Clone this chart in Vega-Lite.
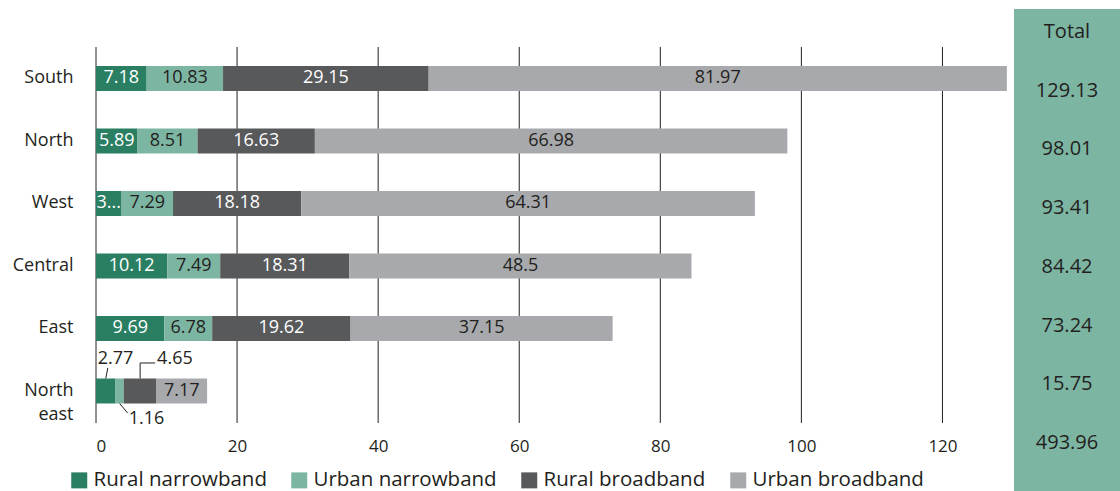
{
  "$schema": "https://vega.github.io/schema/vega-lite/v6.json",
  "padding": {"left": 0, "top": 9, "right": 0, "bottom": 0},
  "background": "white",
  "config": {
    "font": "Open Sans",
    "view": {"stroke": null},
    "axis": {"labelFont": "Open Sans", "labelColor": "#231f20"},
    "text": {"font": "Open Sans"},
    "legend": {"labelFont": "Open Sans", "labelColor": "#231f20"}
  },
  "datasets": {
    "segs": [
      {"region": "South", "type": "Rural narrowband", "seg": 1, "value": 7.18, "label": "7.18"},
      {"region": "South", "type": "Urban narrowband", "seg": 2, "value": 10.83, "label": "10.83"},
      {"region": "South", "type": "Rural broadband", "seg": 3, "value": 29.15, "label": "29.15"},
      {"region": "South", "type": "Urban broadband", "seg": 4, "value": 81.97, "label": "81.97"},
      {"region": "North", "type": "Rural narrowband", "seg": 1, "value": 5.89, "label": "5.89"},
      {"region": "North", "type": "Urban narrowband", "seg": 2, "value": 8.51, "label": "8.51"},
      {"region": "North", "type": "Rural broadband", "seg": 3, "value": 16.63, "label": "16.63"},
      {"region": "North", "type": "Urban broadband", "seg": 4, "value": 66.98, "label": "66.98"},
      {"region": "West", "type": "Rural narrowband", "seg": 1, "value": 3.63, "label": "3..."},
      {"region": "West", "type": "Urban narrowband", "seg": 2, "value": 7.29, "label": "7.29"},
      {"region": "West", "type": "Rural broadband", "seg": 3, "value": 18.18, "label": "18.18"},
      {"region": "West", "type": "Urban broadband", "seg": 4, "value": 64.31, "label": "64.31"},
      {"region": "Central", "type": "Rural narrowband", "seg": 1, "value": 10.12, "label": "10.12"},
      {"region": "Central", "type": "Urban narrowband", "seg": 2, "value": 7.49, "label": "7.49"},
      {"region": "Central", "type": "Rural broadband", "seg": 3, "value": 18.31, "label": "18.31"},
      {"region": "Central", "type": "Urban broadband", "seg": 4, "value": 48.5, "label": "48.5"},
      {"region": "East", "type": "Rural narrowband", "seg": 1, "value": 9.69, "label": "9.69"},
      {"region": "East", "type": "Urban narrowband", "seg": 2, "value": 6.78, "label": "6.78"},
      {"region": "East", "type": "Rural broadband", "seg": 3, "value": 19.62, "label": "19.62"},
      {"region": "East", "type": "Urban broadband", "seg": 4, "value": 37.15, "label": "37.15"},
      {"region": "North east", "type": "Rural narrowband", "seg": 1, "value": 2.77, "label": "2.77"},
      {"region": "North east", "type": "Urban narrowband", "seg": 2, "value": 1.16, "label": "1.16"},
      {"region": "North east", "type": "Rural broadband", "seg": 3, "value": 4.65, "label": "4.65"},
      {"region": "North east", "type": "Urban broadband", "seg": 4, "value": 7.17, "label": "7.17"}
    ],
    "ticks": [{"g": 0}, {"g": 20}, {"g": 40}, {"g": 60}, {"g": 80}, {"g": 100}, {"g": 120}],
    "totals": [
      {"r": 0, "t": "Total"},
      {"r": 1, "t": "129.13"},
      {"r": 2, "t": "98.01"},
      {"r": 3, "t": "93.41"},
      {"r": 4, "t": "84.42"},
      {"r": 5, "t": "73.24"},
      {"r": 6, "t": "15.75"},
      {"r": 7, "t": "493.96"}
    ]
  },
  "spacing": 1,
  "hconcat": [
    {
      "width": 917,
      "height": 414,
      "layer": [
        {
          "data": {"name": "ticks"},
          "mark": {"type": "rule", "color": "#231f20", "strokeWidth": 1, "yOffset": -31.5, "y2Offset": 32},
          "encoding": {
            "x": {"field": "g", "type": "quantitative"},
            "y": {"datum": "South"},
            "y2": {"datum": "North east"}
          }
        },
        {
          "data": {"name": "segs"},
          "transform": [
            {"stack": "value", "groupby": ["region"], "sort": [{"field": "seg"}], "as": ["v0", "v1"]}
          ],
          "layer": [
            {
              "mark": {"type": "bar"},
              "encoding": {
                "y": {"field": "region", "type": "nominal"},
                "x": {"field": "v0", "type": "quantitative"},
                "x2": {"field": "v1"},
                "color": {
                  "field": "type",
                  "type": "nominal",
                  "scale": {
                    "domain": ["Rural narrowband", "Urban narrowband", "Rural broadband", "Urban broadband"],
                    "range": ["#2a7f62", "#7db5a3", "#58595b", "#a7a9ac"]
                  },
                  "legend": {
                    "title": null,
                    "orient": "none",
                    "legendX": -27,
                    "legendY": 461,
                    "direction": "horizontal",
                    "symbolType": "square",
                    "symbolSize": 256,
                    "symbolStrokeWidth": 0,
                    "symbolOpacity": 1,
                    "labelFontSize": 20.5,
                    "labelLimit": 400,
                    "labelOffset": 4,
                    "columnPadding": 22
                  }
                }
              }
            },
            {
              "transform": [
                {"fold": ["v0", "v1"], "as": ["edge", "pos"]},
                {"aggregate": [{"op": "mean", "field": "pos", "as": "mid"}], "groupby": ["region", "type", "label"]}
              ],
              "encoding": {
                "y": {"field": "region", "type": "nominal"},
                "x": {"field": "mid", "type": "quantitative"}
              },
              "layer": [
                {
                  "transform": [{"filter": "datum.region != 'North east' || datum.type == 'Urban broadband'"}],
                  "mark": {"type": "text", "fontSize": 18, "baseline": "middle", "align": "center"},
                  "encoding": {
                    "text": {"field": "label"},
                    "color": {
                      "condition": {"test": "datum.type == 'Rural narrowband' || datum.type == 'Rural broadband'", "value": "white"},
                      "value": "#231f20"
                    }
                  }
                },
                {
                  "transform": [{"filter": "datum.region == 'North east' && datum.type == 'Rural narrowband'"}],
                  "mark": {"type": "text", "fontSize": 18, "baseline": "middle", "align": "left", "dx": -8, "dy": -32, "color": "#231f20"},
                  "encoding": {"text": {"field": "label"}}
                },
                {
                  "transform": [{"filter": "datum.region == 'North east' && datum.type == 'Rural broadband'"}],
                  "mark": {"type": "text", "fontSize": 18, "baseline": "middle", "align": "left", "dx": 17, "dy": -32, "color": "#231f20"},
                  "encoding": {"text": {"field": "label"}}
                },
                {
                  "transform": [{"filter": "datum.region == 'North east' && datum.type == 'Urban narrowband'"}],
                  "mark": {"type": "text", "fontSize": 18, "baseline": "middle", "align": "left", "dx": 9, "dy": 28, "color": "#231f20"},
                  "encoding": {"text": {"field": "label"}}
                },
                {
                  "transform": [{"filter": "datum.region == 'North east' && datum.type == 'Rural narrowband'"}],
                  "mark": {"type": "rule", "color": "#231f20", "strokeWidth": 1, "yOffset": -12.5, "y2Offset": -23, "x2Offset": 2},
                  "encoding": {"x2": {"field": "mid"}, "y2": {"field": "region"}}
                },
                {
                  "transform": [{"filter": "datum.region == 'North east' && datum.type == 'Rural broadband'"}],
                  "mark": {"type": "rule", "color": "#231f20", "strokeWidth": 1, "yOffset": -12.5, "y2Offset": -28},
                  "encoding": {"x2": {"field": "mid"}, "y2": {"field": "region"}}
                },
                {
                  "transform": [{"filter": "datum.region == 'North east' && datum.type == 'Rural broadband'"}],
                  "mark": {"type": "rule", "color": "#231f20", "strokeWidth": 1, "yOffset": -28, "y2Offset": -28, "x2Offset": 15},
                  "encoding": {"x2": {"field": "mid"}, "y2": {"field": "region"}}
                },
                {
                  "transform": [{"filter": "datum.region == 'North east' && datum.type == 'Urban narrowband'"}],
                  "mark": {"type": "rule", "color": "#231f20", "strokeWidth": 1, "yOffset": 12.5, "y2Offset": 22, "x2Offset": 8},
                  "encoding": {"x2": {"field": "mid"}, "y2": {"field": "region"}}
                }
              ]
            }
          ]
        }
      ],
      "resolve": {"scale": {"x": "shared", "y": "shared"}},
      "encoding": {
        "x": {
          "type": "quantitative",
          "scale": {"domain": [0, 130], "nice": false},
          "axis": {
            "title": null,
            "values": [0, 20, 40, 60, 80, 100, 120],
            "grid": false,
            "domain": false,
            "ticks": false,
            "labelFontSize": 17,
            "labelPadding": 15
          }
        },
        "y": {
          "type": "nominal",
          "sort": ["South", "North", "West", "Central", "East", "North east"],
          "scale": {
            "domain": ["South", "North", "West", "Central", "East", "North east"],
            "paddingInner": 0.6,
            "paddingOuter": 0.612,
            "align": 0.745
          },
          "axis": {
            "title": null,
            "domain": false,
            "ticks": false,
            "labelFontSize": 18,
            "labelPadding": 23,
            "labelLineHeight": 24,
            "minExtent": 96,
            "maxExtent": 96,
            "labelExpr": "datum.value == 'North east' ? ['North', 'east'] : datum.value"
          }
        }
      }
    },
    {
      "width": 106,
      "height": 482,
      "view": {"fill": "#7db5a3", "stroke": null},
      "data": {"name": "totals"},
      "mark": {"type": "text", "fontSize": 20, "color": "#231f20", "baseline": "middle", "align": "center"},
      "encoding": {
        "y": {
          "field": "r",
          "type": "ordinal",
          "scale": {"type": "point", "padding": 0.6055, "align": 0.3235},
          "axis": null
        },
        "text": {"field": "t"}
      }
    }
  ]
}
